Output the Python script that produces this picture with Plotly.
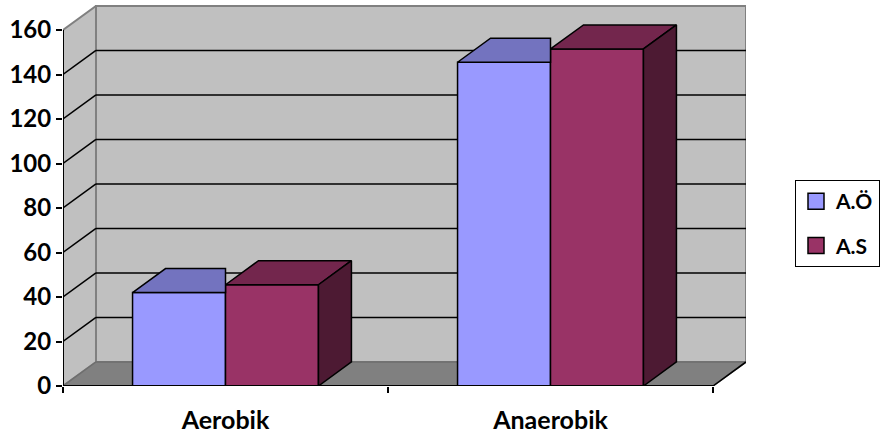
import plotly.graph_objects as go

# --- data -------------------------------------------------------------
categories = ["Aerobik", "Anaerobik"]
series_names = ["A.Ö", "A.S"]
values_ao = [42, 145.5]
values_as = [45.5, 151.5]
y_ticks = [0, 20, 40, 60, 80, 100, 120, 140, 160]

# --- styling ------------------------------------------------------------
front_colors = ["#9999FF", "#993366"]
top_colors = ["#7373BF", "#73264D"]
side_colors = ["#4D1A33", "#4D1A33"]
WALL = "#C0C0C0"
FLOOR = "#808080"
EDGE_GRAY = "#808080"
FONT = "Lato"

BAR_W = 0.286          # width of one bar (category units)
DX, DY = 0.1015, 10.8  # depth offset of the 3-D box (x units, y units)
Y_MAX = y_ticks[-1]
X_MIN, X_MAX = -0.5, len(categories) - 0.5

series_vals = [values_ao, values_as]

fig = go.Figure()

# front faces of the columns
for s, (name, vals) in enumerate(zip(series_names, series_vals)):
    fig.add_trace(go.Bar(
        x=list(range(len(categories))), y=vals,
        width=BAR_W, offset=-BAR_W + s * BAR_W,
        marker=dict(color=front_colors[s], line=dict(color="black", width=1.5)),
        showlegend=False, hoverinfo="skip",
    ))


def poly(xs, ys, color):
    fig.add_trace(go.Scatter(
        x=xs + [xs[0]], y=ys + [ys[0]], mode="lines", fill="toself",
        fillcolor=color, line=dict(color="black", width=1.5),
        showlegend=False, hoverinfo="skip",
    ))


# top and side faces, drawn left to right so nearer faces overlap correctly
for c in range(len(categories)):
    for s, vals in enumerate(series_vals):
        v = vals[c]
        x0 = c - BAR_W + s * BAR_W
        x1 = x0 + BAR_W
        last = s == len(series_vals) - 1
        if last:
            poly([x0, x1, x1 + DX, x0 + DX], [v, v, v + DY, v + DY], top_colors[s])
            poly([x1, x1 + DX, x1 + DX, x1], [0, DY, v + DY, v], side_colors[s])
        else:
            # right part of this top face is hidden behind the next (taller) column
            poly([x0, x1, x1, x0 + DX], [v, v, v + DY, v + DY], top_colors[s])

# legend entries
for s, name in enumerate(series_names):
    fig.add_trace(go.Scatter(
        x=[None], y=[None], mode="markers", name=name, legendgroup=name,
        marker=dict(symbol="square", size=16, color=front_colors[s],
                    line=dict(color="black", width=1.5)),
    ))

shapes = []
# back wall
shapes.append(dict(type="path", xref="x", yref="y", layer="below",
                   path=f"M{X_MIN + DX},{DY} L{X_MAX + DX},{DY} L{X_MAX + DX},{Y_MAX + DY} "
                        f"L{X_MIN + DX},{Y_MAX + DY} Z",
                   fillcolor=WALL, line=dict(color=EDGE_GRAY, width=2)))
# left side wall
shapes.append(dict(type="path", xref="x", yref="y", layer="below",
                   path=f"M{X_MIN},0 L{X_MIN + DX},{DY} L{X_MIN + DX},{Y_MAX + DY} L{X_MIN},{Y_MAX} Z",
                   fillcolor=WALL, line=dict(color=EDGE_GRAY, width=2)))
# floor
shapes.append(dict(type="path", xref="x", yref="y", layer="below",
                   path=f"M{X_MIN},0 L{X_MAX},0 L{X_MAX + DX},{DY} L{X_MIN + DX},{DY} Z",
                   fillcolor=FLOOR, line=dict(color="#6E6E6E", width=1.5)))
# gridlines across the back wall and left wall
for t in y_ticks[1:-1]:
    shapes.append(dict(type="line", xref="x", yref="y", layer="below",
                       x0=X_MIN + DX, x1=X_MAX + DX, y0=t + DY, y1=t + DY,
                       line=dict(color="black", width=1.5)))
    shapes.append(dict(type="line", xref="x", yref="y", layer="below",
                       x0=X_MIN, x1=X_MIN + DX, y0=t, y1=t + DY,
                       line=dict(color="black", width=1.5)))
# right edge of the floor
shapes.append(dict(type="line", xref="x", yref="y", layer="above",
                   x0=X_MAX, x1=X_MAX + DX, y0=0, y1=DY, line=dict(color="black", width=1.5)))
# front axis lines
shapes.append(dict(type="line", xref="x", yref="y", layer="above",
                   x0=X_MIN, x1=X_MIN, y0=0, y1=Y_MAX, line=dict(color="black", width=2)))
shapes.append(dict(type="line", xref="x", yref="y", layer="above",
                   x0=X_MIN, x1=X_MAX, y0=0, y1=0, line=dict(color="black", width=2)))

fig.update_layout(
    width=880, height=434,
    margin=dict(l=63, r=134, t=5, b=48),
    paper_bgcolor="white", plot_bgcolor="white",
    barmode="overlay",
    shapes=shapes,
    showlegend=True,
    legend=dict(
        xref="container", yref="container",
        x=795 / 880, y=1 - 180 / 434, xanchor="left", yanchor="top",
        bordercolor="black", borderwidth=1, bgcolor="white",
        font=dict(family=FONT, size=21, color="black", weight="bold"),
        tracegroupgap=14, itemclick=False,
    ),
    xaxis=dict(
        range=[X_MIN, X_MIN + 683 / 325], showgrid=False, zeroline=False, showline=False,
        automargin=False,
        tickvals=list(range(len(categories))), ticktext=categories, ticks="",
        ticklabelstandoff=17,
        tickfont=dict(family=FONT, size=25, color="black", weight="bold"),
        minor=dict(tickvals=[i - 0.5 for i in range(len(categories) + 1)],
                   ticks="outside", ticklen=6, tickwidth=2, tickcolor="black", showgrid=False),
        fixedrange=True,
    ),
    yaxis=dict(
        range=[0, 381 / 2.225], showgrid=False, zeroline=False, showline=False,
        automargin=False,
        tickvals=y_ticks, ticks="outside", ticklen=6, tickwidth=2, tickcolor="black",
        tickfont=dict(family=FONT, size=24, color="black", weight="bold"),
        fixedrange=True,
    ),
)

fig.write_html("out.html")
